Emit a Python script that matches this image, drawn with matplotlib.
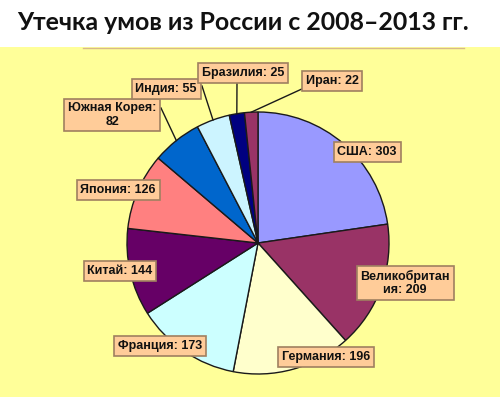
import matplotlib
matplotlib.use("Agg")
import matplotlib.pyplot as plt
import matplotlib.patches as mpatches
import numpy as np

countries = ["США", "Великобритания", "Германия", "Франция", "Китай",
             "Япония", "Южная Корея", "Индия", "Бразилия", "Иран"]
values = [303, 209, 196, 173, 144, 126, 82, 55, 25, 22]
label_texts = ["США: 303", "Великобритан\nия: 209", "Германия: 196", "Франция: 173",
               "Китай: 144", "Япония: 126", "Южная Корея:\n82", "Индия: 55",
               "Бразилия: 25", "Иран: 22"]
colors = ["#9999FF", "#993366", "#FFFFCC", "#CCFFFF", "#660066",
          "#FF8080", "#0066CC", "#CCF4FF", "#000080", "#993366"]
title = "Утечка умов из России с 2008–2013 гг."

# layout (pixel positions of label boxes, top-left origin)
label_pos = [(367, 152), (405, 283), (326, 357), (160, 346), (120, 271),
             (118, 190), (112, 115), (166, 89), (243, 73), (332, 81)]
leader = [False, False, False, False, False, False, True, True, True, True]
leader_start = {6: (161, 108), 7: (202, 86), 8: (237, 82), 9: (304, 88)}

W, H = 500, 397
fig = plt.figure(figsize=(W / 100, H / 100), dpi=100)
fig.patch.set_facecolor("white")
ax = fig.add_axes([0, 0, 1, 1])

def Y(y):
    return H - y

# yellow chart area
ax.add_patch(mpatches.Rectangle((0, 0), W, Y(47), facecolor="#FFFF99",
                                edgecolor="none", zorder=0))
ax.plot([83, 464], [Y(47.5), Y(47.5)], color="#D8B98A", lw=1, zorder=1)

cx, cy, r = 258, Y(243), 131
wedges, _ = ax.pie(values, colors=colors, startangle=90, counterclock=False,
                   center=(cx, cy), radius=r, frame=True,
                   wedgeprops=dict(edgecolor="#1a1a1a", linewidth=1.0))
ax.set_xlim(0, W)
ax.set_ylim(0, H)
ax.set_aspect("equal")
ax.axis("off")

for i, (w, txt) in enumerate(zip(wedges, label_texts)):
    lx, ly = label_pos[i]
    if leader[i]:
        ang = np.deg2rad((w.theta1 + w.theta2) / 2)
        ex, ey = cx + r * np.cos(ang), cy + r * np.sin(ang)
        sx, sy = leader_start[i]
        ax.plot([sx, ex], [Y(sy), ey], color="#1a1a1a", lw=1.0, zorder=3)
    ax.text(lx, Y(ly), txt, ha="center", va="center", fontsize=9,
            fontweight="bold", family="Liberation Sans", color="#111111",
            linespacing=1.15, zorder=5,
            bbox=dict(boxstyle="square,pad=0.3", facecolor="#FFCC99",
                      edgecolor="#A08060", linewidth=1.2))

ax.text(243, Y(22), title, ha="center", va="center", fontsize=17.9,
        fontweight="bold", family="Lato", color="#111111")

fig.savefig("out.png", dpi=100)
